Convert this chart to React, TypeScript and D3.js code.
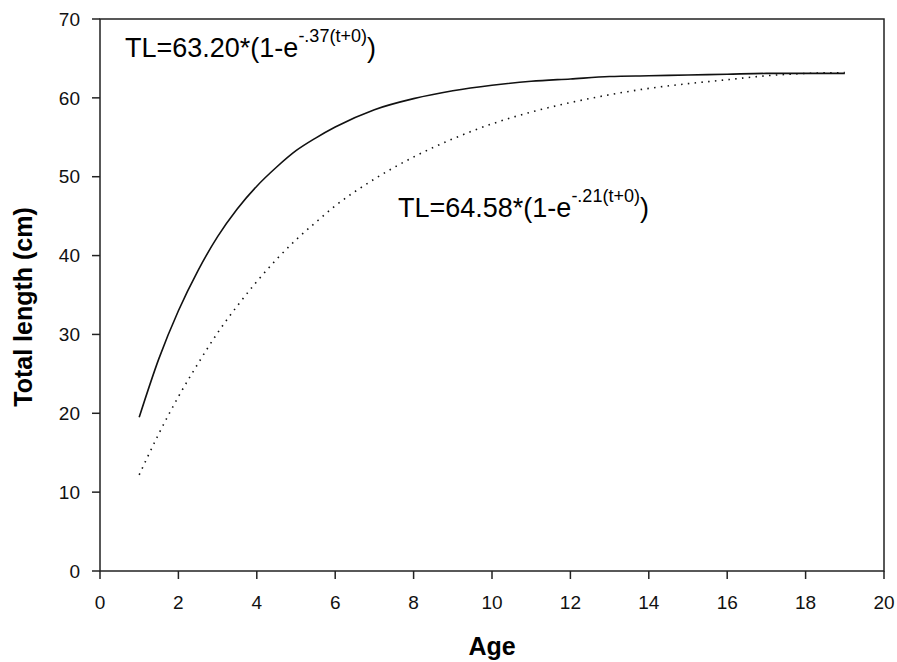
import React from "react";
import * as d3 from "d3";

// ages, denser where curves bend
const ages = [1, 1.5, 2, 2.5, 3, 3.5, 4, 4.5, 5, 5.5, 6, 7, 8, 9, 10, 11, 12, 13, 14, 15, 16, 17, 18, 19];
const solidLength = [19.5, 26.9, 33.0, 38.1, 42.4, 45.9, 48.8, 51.2, 53.3, 54.9, 56.3, 58.5, 59.9, 60.9, 61.6, 62.1, 62.4, 62.7, 62.8, 62.9, 63.0, 63.1, 63.1, 63.1];
const dottedLength = [12.2, 17.4, 22.1, 26.3, 30.2, 33.6, 36.7, 39.5, 42.0, 44.2, 46.3, 49.7, 52.5, 54.8, 56.7, 58.2, 59.4, 60.4, 61.2, 61.8, 62.3, 62.8, 63.1, 63.2];

const xTicks = [0, 2, 4, 6, 8, 10, 12, 14, 16, 18, 20];
const yTicks = [0, 10, 20, 30, 40, 50, 60, 70];

const eq1 = { main: "TL=63.20*(1-e", sup: "-.37(t+0)" };
const eq2 = { main: "TL=64.58*(1-e", sup: "-.21(t+0)" };

const width = 897;
const height = 662;
const margin = { top: 19, right: 13, bottom: 91, left: 100 };
const font = "Arial, 'Liberation Sans', sans-serif";

export default function App() {
  const innerW = width - margin.left - margin.right;
  const innerH = height - margin.top - margin.bottom;

  const x = d3.scaleLinear().domain([0, 20]).range([0, innerW]);
  const y = d3.scaleLinear().domain([0, 70]).range([innerH, 0]);

  const line = d3.line<number>()
    .x((d, i) => x(ages[i]))
    .y(d => y(d))
    .curve(d3.curveMonotoneX);

  const axisColor = "#222";

  return (
    <svg width={width} height={height} style={{ position: "absolute", left: 0, top: 0, background: "#fff" }}>
      <g transform={`translate(${margin.left},${margin.top})`} fontFamily={font}>
        {/* frame */}
        <rect x={0} y={0} width={innerW} height={innerH} fill="none" stroke={axisColor} strokeWidth={1.5} />

        {xTicks.map(t => (
          <g key={"x" + t} transform={`translate(${x(t)},${innerH})`}>
            <line y1={0} y2={8} stroke={axisColor} strokeWidth={1.5} />
            <text y={38} textAnchor="middle" fontSize={19} fill="#111">{t}</text>
          </g>
        ))}

        {yTicks.map(t => (
          <g key={"y" + t} transform={`translate(0,${y(t)})`}>
            <line x1={-8} x2={0} stroke={axisColor} strokeWidth={1.5} />
            <text x={-20} dy="0.35em" textAnchor="end" fontSize={19} fill="#111">{t}</text>
          </g>
        ))}

        <path d={line(solidLength) || ""} fill="none" stroke="#111" strokeWidth={1.6} />
        <path d={line(dottedLength) || ""} fill="none" stroke="#111" strokeWidth={1.6} strokeDasharray="1.5,5.3" />

        <text x={25} y={38} fontSize={27} fill="#000">
          {eq1.main}
          <tspan dy={-15} fontSize={18}>{eq1.sup}</tspan>
          <tspan dy={15}>)</tspan>
        </text>
        <text x={298} y={198} fontSize={27} fill="#000">
          {eq2.main}
          <tspan dy={-15} fontSize={18}>{eq2.sup}</tspan>
          <tspan dy={15}>)</tspan>
        </text>
      </g>

      <text x={margin.left + innerW / 2} y={655} textAnchor="middle" fontFamily={font} fontWeight="bold" fontSize={25} fill="#000">Age</text>
      <text transform={`translate(32,${margin.top + innerH / 2 + 12}) rotate(-90)`} textAnchor="middle" fontFamily={font} fontWeight="bold" fontSize={25} fill="#000">Total length (cm)</text>
    </svg>
  );
}
